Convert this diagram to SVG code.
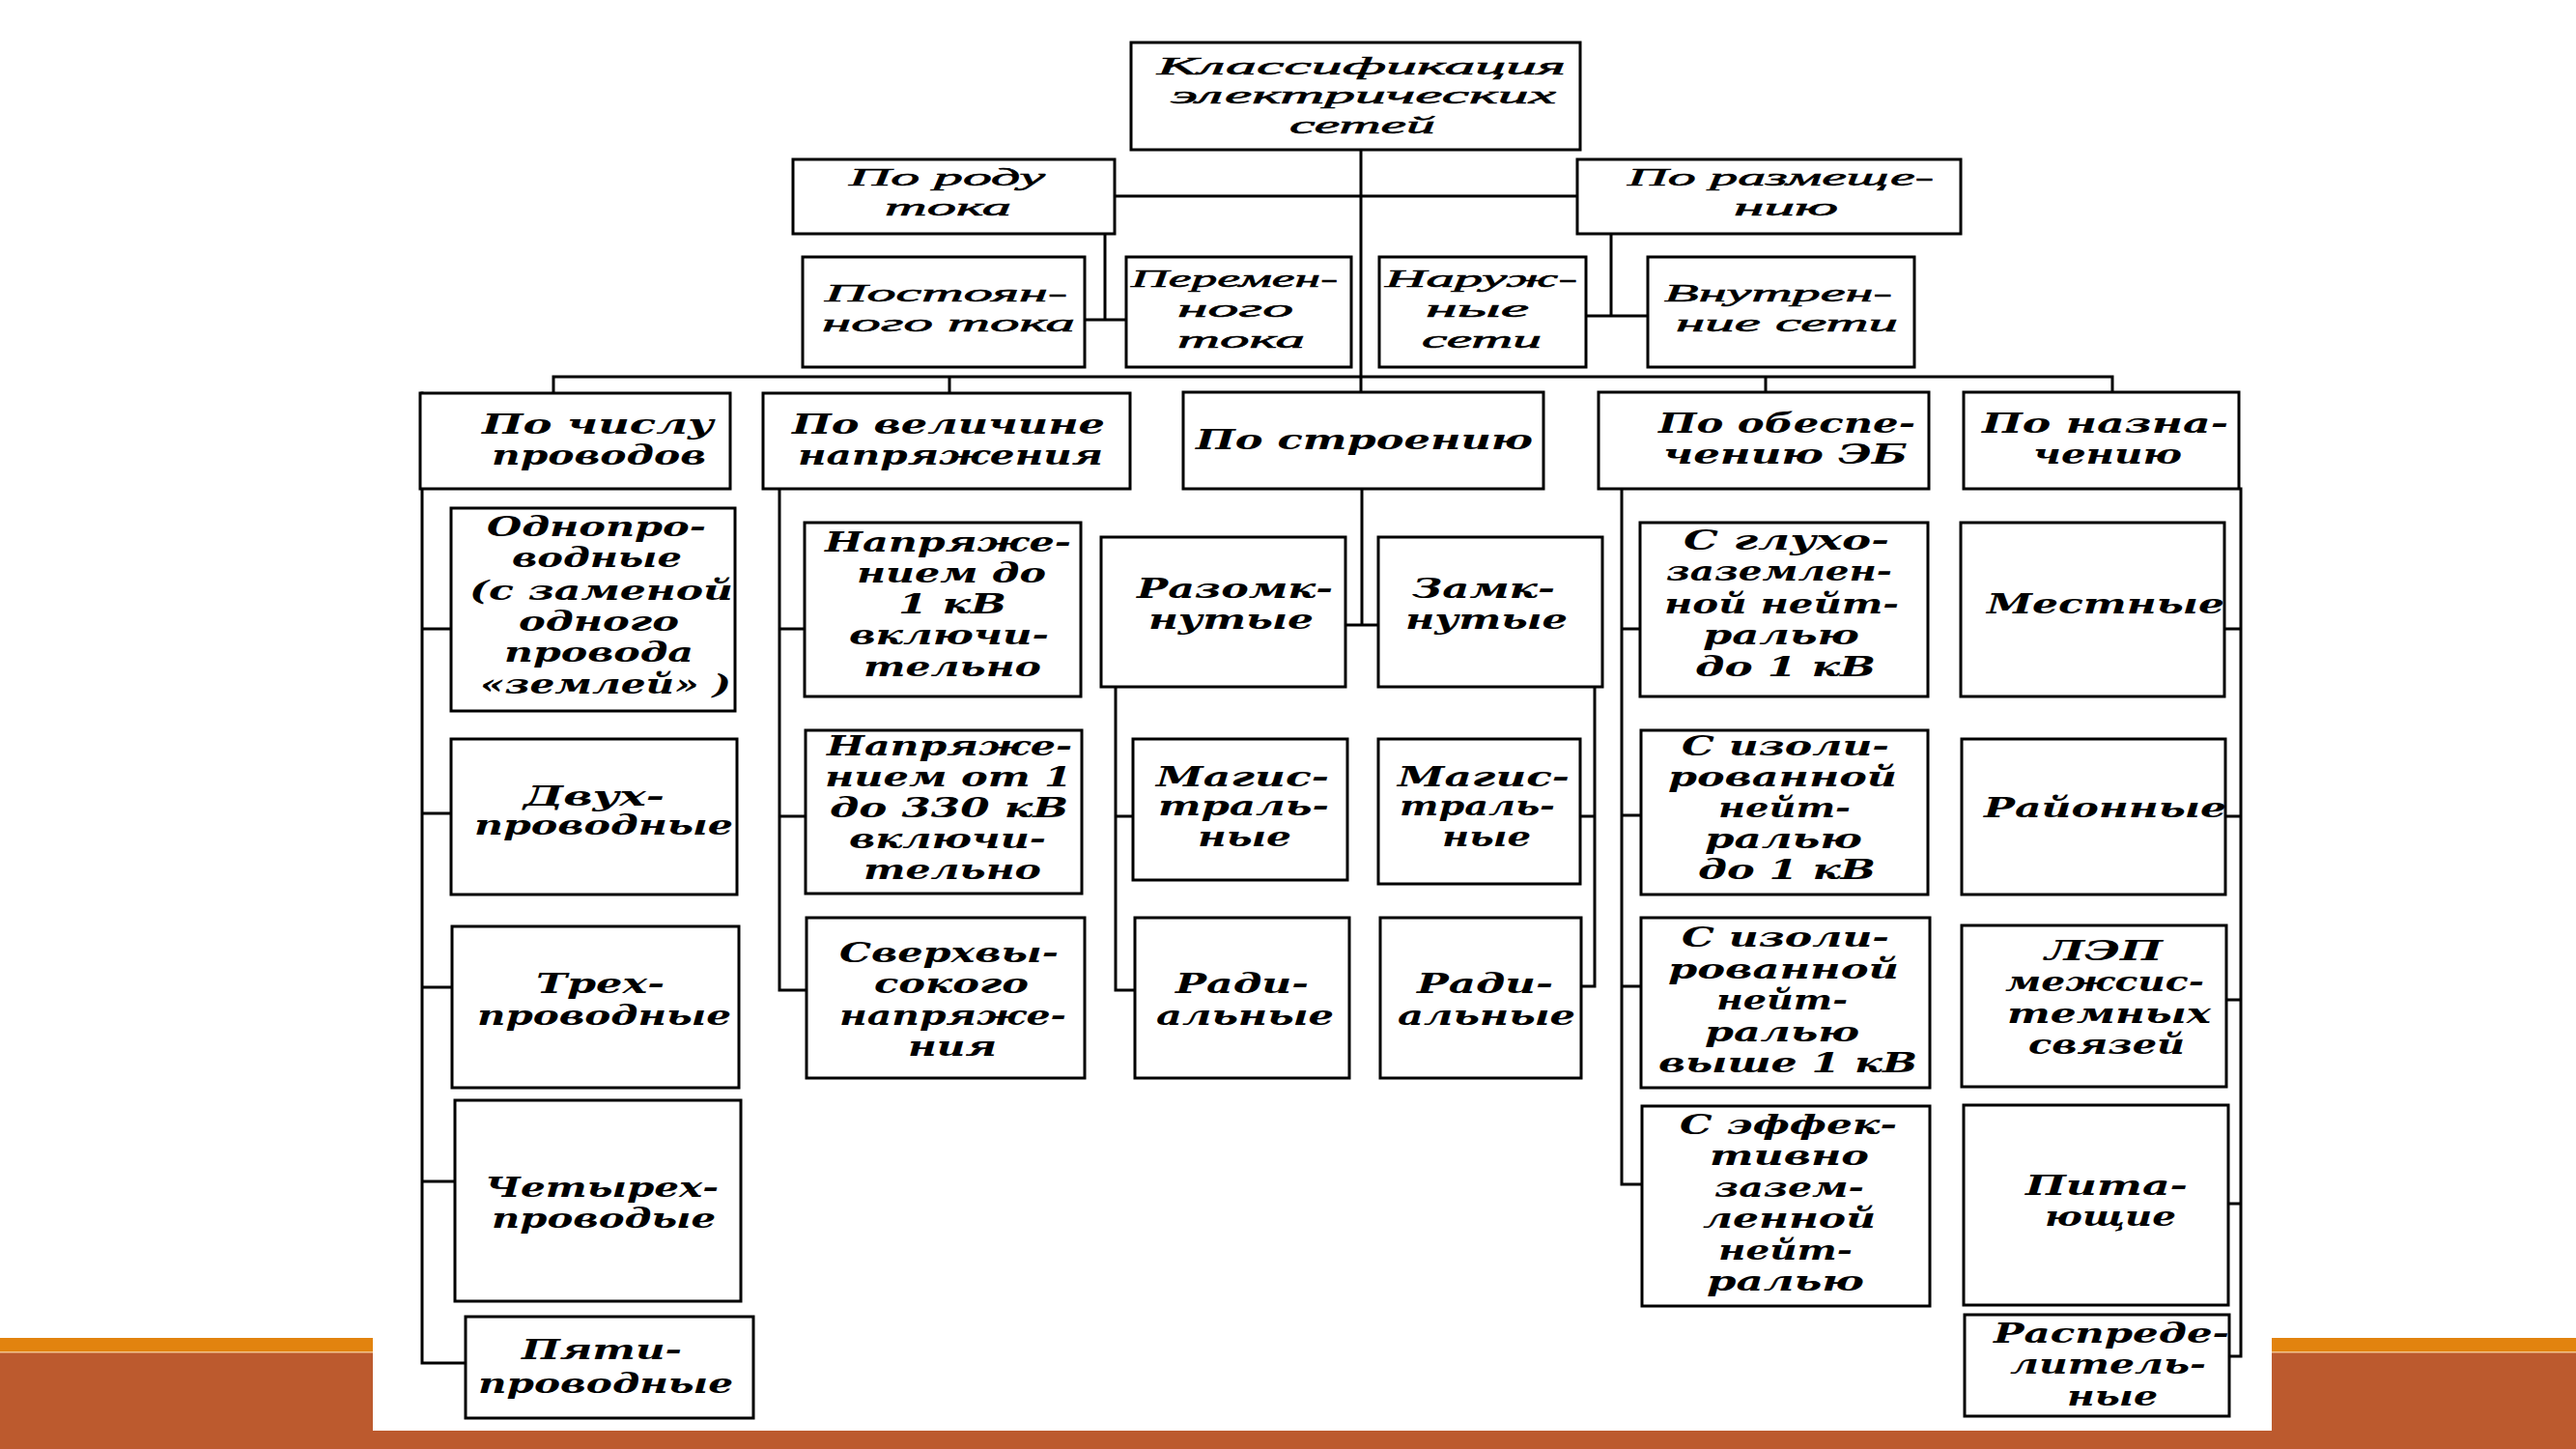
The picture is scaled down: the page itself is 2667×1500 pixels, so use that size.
<svg xmlns="http://www.w3.org/2000/svg" width="2667" height="1500" viewBox="0 0 2667 1500">
<style>
.box{fill:#fff;stroke:#000;stroke-width:3}
.ln{fill:none;stroke:#000;stroke-width:3;stroke-linecap:square}
.a{font-family:"Liberation Serif","DejaVu Serif",serif;font-style:italic;font-weight:normal;font-size:26px;fill:#000;stroke:#000;stroke-width:0.6}
.b{font-family:"DejaVu Serif","Liberation Serif",serif;font-style:italic;font-weight:bold;font-size:27px;fill:#000}
</style>
<rect x="0" y="0" width="2667" height="1500" fill="#fff"/>
<rect x="0" y="1400" width="2667" height="100" fill="#BC5A2E"/>
<rect x="0" y="1385" width="2667" height="14" fill="#E2830F"/>
<rect x="0" y="1399" width="2667" height="1.5" fill="#F3C48C"/>
<rect x="386" y="0" width="1966" height="1481" fill="#fff"/>

<g id="connectors">
<path class="ln" d="M1409 155V406M1154 203H1633M1144 242V331M1123 331H1166M1668 242V327M1642 327H1706"/>
<path class="ln" d="M573 390H2187M573 390V407M983 390V407M1828 390V406M2187 390V406"/>
<path class="ln" d="M437 407V1411H482M437 651H467M437 842H467M437 1022H468M437 1223H471"/>
<path class="ln" d="M807 506V1025H835M807 651H833M807 845H834"/>
<path class="ln" d="M1410 506V647M1393 647H1427"/>
<path class="ln" d="M1155 711V1025H1175M1155 845H1173"/>
<path class="ln" d="M1651 711V1021H1637M1651 845H1636"/>
<path class="ln" d="M1679 506V1226H1700M1679 651H1698M1679 844H1699M1679 1021H1699"/>
<path class="ln" d="M2320 506V1404H2308M2320 651H2303M2320 845H2304M2320 1035H2305M2320 1246H2307"/>
</g>

<g id="root"><rect class="box" x="1171" y="44" width="465" height="111"/>
<text class="a" x="1198" y="77" textLength="423" lengthAdjust="spacingAndGlyphs">Классификация</text>
<text class="a" x="1212" y="107" textLength="399" lengthAdjust="spacingAndGlyphs">электрических</text>
<text class="a" x="1335" y="138" textLength="151" lengthAdjust="spacingAndGlyphs">сетей</text></g>

<g id="po-rodu-toka"><rect class="box" x="821" y="165" width="333" height="77"/>
<text class="a" x="879" y="192" textLength="203" lengthAdjust="spacingAndGlyphs">По роду</text>
<text class="a" x="916" y="223" textLength="131" lengthAdjust="spacingAndGlyphs">тока</text></g>

<g id="po-razmescheniyu"><rect class="box" x="1633" y="165" width="397" height="77"/>
<text class="a" x="1685" y="192" textLength="317" lengthAdjust="spacingAndGlyphs">По размеще-</text>
<text class="a" x="1795" y="223" textLength="108" lengthAdjust="spacingAndGlyphs">нию</text></g>

<g id="postoyannogo"><rect class="box" x="831" y="266" width="292" height="114"/>
<text class="a" x="854" y="312" textLength="251" lengthAdjust="spacingAndGlyphs">Постоян-</text>
<text class="a" x="851" y="343" textLength="262" lengthAdjust="spacingAndGlyphs">ного тока</text></g>

<g id="peremennogo"><rect class="box" x="1166" y="266" width="233" height="114"/>
<text class="a" x="1171" y="297" textLength="214" lengthAdjust="spacingAndGlyphs">Перемен-</text>
<text class="a" x="1219" y="328" textLength="120" lengthAdjust="spacingAndGlyphs">ного</text>
<text class="a" x="1219" y="360" textLength="132" lengthAdjust="spacingAndGlyphs">тока</text></g>

<g id="naruzhnye"><rect class="box" x="1428" y="266" width="214" height="114"/>
<text class="a" x="1434" y="297" textLength="199" lengthAdjust="spacingAndGlyphs">Наруж-</text>
<text class="a" x="1476" y="328" textLength="107" lengthAdjust="spacingAndGlyphs">ные</text>
<text class="a" x="1472" y="360" textLength="124" lengthAdjust="spacingAndGlyphs">сети</text></g>

<g id="vnutrennie"><rect class="box" x="1706" y="266" width="276" height="114"/>
<text class="a" x="1723" y="312" textLength="236" lengthAdjust="spacingAndGlyphs">Внутрен-</text>
<text class="a" x="1735" y="343" textLength="230" lengthAdjust="spacingAndGlyphs">ние сети</text></g>

<g id="po-chislu"><rect class="box" x="435" y="407" width="321" height="99"/>
<text class="b" x="499" y="449" textLength="240" lengthAdjust="spacingAndGlyphs">По числу</text>
<text class="b" x="509" y="481" textLength="222" lengthAdjust="spacingAndGlyphs">проводов</text></g>

<g id="po-velichine"><rect class="box" x="790" y="407" width="380" height="99"/>
<text class="b" x="820" y="449" textLength="324" lengthAdjust="spacingAndGlyphs">По величине</text>
<text class="b" x="826" y="481" textLength="316" lengthAdjust="spacingAndGlyphs">напряжения</text></g>

<g id="po-stroeniyu"><rect class="box" x="1225" y="406" width="373" height="100"/>
<text class="b" x="1238" y="465" textLength="349" lengthAdjust="spacingAndGlyphs">По строению</text></g>

<g id="po-obespecheniyu"><rect class="box" x="1655" y="406" width="342" height="100"/>
<text class="b" x="1717" y="448" textLength="266" lengthAdjust="spacingAndGlyphs">По обеспе-</text>
<text class="b" x="1722" y="480" textLength="253" lengthAdjust="spacingAndGlyphs">чению ЭБ</text></g>

<g id="po-naznacheniyu"><rect class="box" x="2033" y="406" width="285" height="100"/>
<text class="b" x="2052" y="448" textLength="255" lengthAdjust="spacingAndGlyphs">По назна-</text>
<text class="b" x="2105" y="480" textLength="154" lengthAdjust="spacingAndGlyphs">чению</text></g>

<g id="odnoprovodnye"><rect class="box" x="467" y="526" width="294" height="210"/>
<text class="b" x="504" y="555" textLength="227" lengthAdjust="spacingAndGlyphs">Однопро-</text>
<text class="b" x="530" y="587" textLength="176" lengthAdjust="spacingAndGlyphs">водные</text>
<text class="b" x="486" y="621" textLength="273" lengthAdjust="spacingAndGlyphs">(с заменой</text>
<text class="b" x="537" y="653" textLength="166" lengthAdjust="spacingAndGlyphs">одного</text>
<text class="b" x="522" y="685" textLength="196" lengthAdjust="spacingAndGlyphs">провода</text>
<text class="b" x="497" y="718" textLength="260" lengthAdjust="spacingAndGlyphs">«землей» )</text></g>

<g id="dvuhprovodnye"><rect class="box" x="467" y="765" width="296" height="161"/>
<text class="b" x="542" y="834" textLength="146" lengthAdjust="spacingAndGlyphs">Двух-</text>
<text class="b" x="491" y="864" textLength="268" lengthAdjust="spacingAndGlyphs">проводные</text></g>

<g id="trehprovodnye"><rect class="box" x="468" y="959" width="297" height="167"/>
<text class="b" x="555" y="1028" textLength="133" lengthAdjust="spacingAndGlyphs">Трех-</text>
<text class="b" x="494" y="1061" textLength="263" lengthAdjust="spacingAndGlyphs">проводные</text></g>

<g id="chetyrehprovodye"><rect class="box" x="471" y="1139" width="296" height="208"/>
<text class="b" x="502" y="1239" textLength="242" lengthAdjust="spacingAndGlyphs">Четырех-</text>
<text class="b" x="509" y="1271" textLength="232" lengthAdjust="spacingAndGlyphs">проводые</text></g>

<g id="pyatiprovodnye"><rect class="box" x="482" y="1363" width="298" height="105"/>
<text class="b" x="540" y="1407" textLength="166" lengthAdjust="spacingAndGlyphs">Пяти-</text>
<text class="b" x="495" y="1442" textLength="264" lengthAdjust="spacingAndGlyphs">проводные</text></g>

<g id="do-1kv"><rect class="box" x="833" y="541" width="286" height="180"/>
<text class="b" x="854" y="571" textLength="255" lengthAdjust="spacingAndGlyphs">Напряже-</text>
<text class="b" x="887" y="603" textLength="196" lengthAdjust="spacingAndGlyphs">нием до</text>
<text class="b" x="930" y="635" textLength="112" lengthAdjust="spacingAndGlyphs">1 кВ</text>
<text class="b" x="879" y="667" textLength="207" lengthAdjust="spacingAndGlyphs">включи-</text>
<text class="b" x="894" y="700" textLength="184" lengthAdjust="spacingAndGlyphs">тельно</text></g>

<g id="ot-1-do-330kv"><rect class="box" x="834" y="756" width="286" height="169"/>
<text class="b" x="856" y="782" textLength="254" lengthAdjust="spacingAndGlyphs">Напряже-</text>
<text class="b" x="854" y="814" textLength="256" lengthAdjust="spacingAndGlyphs">нием от 1</text>
<text class="b" x="859" y="846" textLength="247" lengthAdjust="spacingAndGlyphs">до 330 кВ</text>
<text class="b" x="879" y="878" textLength="204" lengthAdjust="spacingAndGlyphs">включи-</text>
<text class="b" x="894" y="910" textLength="184" lengthAdjust="spacingAndGlyphs">тельно</text></g>

<g id="sverhvysokogo"><rect class="box" x="835" y="950" width="288" height="166"/>
<text class="b" x="869" y="996" textLength="227" lengthAdjust="spacingAndGlyphs">Сверхвы-</text>
<text class="b" x="905" y="1028" textLength="160" lengthAdjust="spacingAndGlyphs">сокого</text>
<text class="b" x="869" y="1061" textLength="235" lengthAdjust="spacingAndGlyphs">напряже-</text>
<text class="b" x="940" y="1093" textLength="92" lengthAdjust="spacingAndGlyphs">ния</text></g>

<g id="razomknutye"><rect class="box" x="1140" y="556" width="253" height="155"/>
<text class="b" x="1177" y="619" textLength="203" lengthAdjust="spacingAndGlyphs">Разомк-</text>
<text class="b" x="1189" y="651" textLength="171" lengthAdjust="spacingAndGlyphs">нутые</text></g>

<g id="zamknutye"><rect class="box" x="1427" y="556" width="232" height="155"/>
<text class="b" x="1462" y="619" textLength="148" lengthAdjust="spacingAndGlyphs">Замк-</text>
<text class="b" x="1455" y="651" textLength="168" lengthAdjust="spacingAndGlyphs">нутые</text></g>

<g id="magistralnye-1"><rect class="box" x="1173" y="765" width="222" height="146"/>
<text class="b" x="1197" y="814" textLength="179" lengthAdjust="spacingAndGlyphs">Магис-</text>
<text class="b" x="1199" y="844" textLength="177" lengthAdjust="spacingAndGlyphs">траль-</text>
<text class="b" x="1240" y="876" textLength="97" lengthAdjust="spacingAndGlyphs">ные</text></g>

<g id="magistralnye-2"><rect class="box" x="1427" y="765" width="209" height="150"/>
<text class="b" x="1447" y="814" textLength="178" lengthAdjust="spacingAndGlyphs">Магис-</text>
<text class="b" x="1449" y="844" textLength="161" lengthAdjust="spacingAndGlyphs">траль-</text>
<text class="b" x="1493" y="876" textLength="92" lengthAdjust="spacingAndGlyphs">ные</text></g>

<g id="radialnye-1"><rect class="box" x="1175" y="950" width="222" height="166"/>
<text class="b" x="1217" y="1028" textLength="138" lengthAdjust="spacingAndGlyphs">Ради-</text>
<text class="b" x="1197" y="1061" textLength="184" lengthAdjust="spacingAndGlyphs">альные</text></g>

<g id="radialnye-2"><rect class="box" x="1429" y="950" width="208" height="166"/>
<text class="b" x="1467" y="1028" textLength="141" lengthAdjust="spacingAndGlyphs">Ради-</text>
<text class="b" x="1447" y="1061" textLength="184" lengthAdjust="spacingAndGlyphs">альные</text></g>

<g id="gluhozazemlennoy"><rect class="box" x="1698" y="541" width="298" height="180"/>
<text class="b" x="1743" y="569" textLength="213" lengthAdjust="spacingAndGlyphs">С глухо-</text>
<text class="b" x="1725" y="601" textLength="234" lengthAdjust="spacingAndGlyphs">заземлен-</text>
<text class="b" x="1723" y="635" textLength="243" lengthAdjust="spacingAndGlyphs">ной нейт-</text>
<text class="b" x="1763" y="667" textLength="162" lengthAdjust="spacingAndGlyphs">ралью</text>
<text class="b" x="1755" y="700" textLength="187" lengthAdjust="spacingAndGlyphs">до 1 кВ</text></g>

<g id="izolirovannoy-do-1kv"><rect class="box" x="1699" y="756" width="297" height="170"/>
<text class="b" x="1741" y="782" textLength="215" lengthAdjust="spacingAndGlyphs">С изоли-</text>
<text class="b" x="1727" y="814" textLength="237" lengthAdjust="spacingAndGlyphs">рованной</text>
<text class="b" x="1779" y="846" textLength="137" lengthAdjust="spacingAndGlyphs">нейт-</text>
<text class="b" x="1765" y="878" textLength="163" lengthAdjust="spacingAndGlyphs">ралью</text>
<text class="b" x="1758" y="910" textLength="184" lengthAdjust="spacingAndGlyphs">до 1 кВ</text></g>

<g id="izolirovannoy-vyshe-1kv"><rect class="box" x="1699" y="950" width="299" height="176"/>
<text class="b" x="1741" y="980" textLength="215" lengthAdjust="spacingAndGlyphs">С изоли-</text>
<text class="b" x="1727" y="1013" textLength="239" lengthAdjust="spacingAndGlyphs">рованной</text>
<text class="b" x="1777" y="1045" textLength="136" lengthAdjust="spacingAndGlyphs">нейт-</text>
<text class="b" x="1765" y="1078" textLength="160" lengthAdjust="spacingAndGlyphs">ралью</text>
<text class="b" x="1717" y="1110" textLength="268" lengthAdjust="spacingAndGlyphs">выше 1 кВ</text></g>

<g id="effektivno"><rect class="box" x="1700" y="1145" width="298" height="207"/>
<text class="b" x="1739" y="1174" textLength="225" lengthAdjust="spacingAndGlyphs">С эффек-</text>
<text class="b" x="1770" y="1206" textLength="165" lengthAdjust="spacingAndGlyphs">тивно</text>
<text class="b" x="1775" y="1239" textLength="155" lengthAdjust="spacingAndGlyphs">зазем-</text>
<text class="b" x="1763" y="1271" textLength="179" lengthAdjust="spacingAndGlyphs">ленной</text>
<text class="b" x="1779" y="1304" textLength="139" lengthAdjust="spacingAndGlyphs">нейт-</text>
<text class="b" x="1767" y="1336" textLength="163" lengthAdjust="spacingAndGlyphs">ралью</text></g>

<g id="mestnye"><rect class="box" x="2030" y="541" width="273" height="180"/>
<text class="b" x="2057" y="635" textLength="246" lengthAdjust="spacingAndGlyphs">Местные</text></g>

<g id="rayonnye"><rect class="box" x="2031" y="765" width="273" height="161"/>
<text class="b" x="2054" y="846" textLength="251" lengthAdjust="spacingAndGlyphs">Районные</text></g>

<g id="lep"><rect class="box" x="2031" y="958" width="274" height="167"/>
<text class="b" x="2117" y="994" textLength="122" lengthAdjust="spacingAndGlyphs">ЛЭП</text>
<text class="b" x="2076" y="1026" textLength="206" lengthAdjust="spacingAndGlyphs">межсис-</text>
<text class="b" x="2078" y="1059" textLength="211" lengthAdjust="spacingAndGlyphs">темных</text>
<text class="b" x="2100" y="1091" textLength="162" lengthAdjust="spacingAndGlyphs">связей</text></g>

<g id="pitayuschie"><rect class="box" x="2033" y="1144" width="274" height="207"/>
<text class="b" x="2097" y="1237" textLength="168" lengthAdjust="spacingAndGlyphs">Пита-</text>
<text class="b" x="2117" y="1269" textLength="136" lengthAdjust="spacingAndGlyphs">ющие</text></g>

<g id="raspredelitelnye"><rect class="box" x="2034" y="1361" width="274" height="105"/>
<text class="b" x="2064" y="1390" textLength="244" lengthAdjust="spacingAndGlyphs">Распреде-</text>
<text class="b" x="2081" y="1422" textLength="203" lengthAdjust="spacingAndGlyphs">литель-</text>
<text class="b" x="2140" y="1455" textLength="94" lengthAdjust="spacingAndGlyphs">ные</text></g>
</svg>
